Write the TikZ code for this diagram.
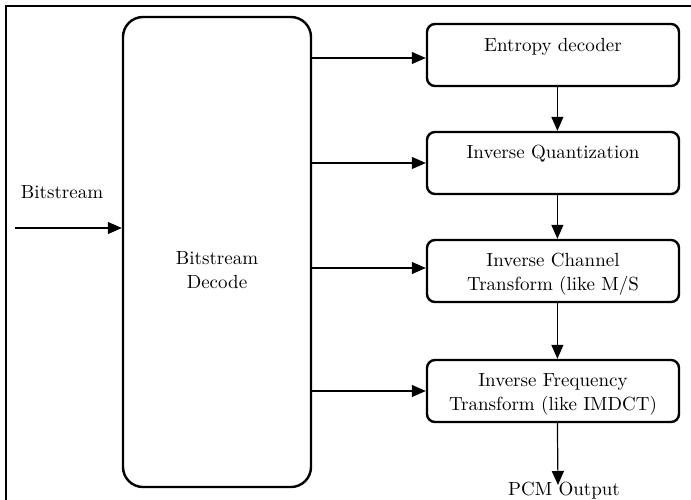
\documentclass[tikz,border=0pt]{standalone}
\usetikzlibrary{arrows.meta}
\tikzset{
  block/.style={draw=black,line width=1.2pt,rounded corners=4pt,minimum width=126pt,minimum height=31pt,inner sep=0pt},
  flow/.style={draw=black,line width=0.6pt,-{Triangle[length=7pt,width=6pt]}},
  txt/.style={align=center,inner sep=0pt,font=\fontsize{9.5}{12}\selectfont}
}
\begin{document}
\begin{tikzpicture}[x=0.5pt,y=-0.5pt]
            \useasboundingbox (0,0) rectangle (691,499);
            \draw[black,line width=0.6pt] (6,6) rectangle (720,530);
            % decoder on the left
            \node[block,rounded corners=10pt,minimum width=94pt,minimum height=235pt,
                  label={[txt,yshift=-9pt]center:Bitstream\\Decode}] (dec) at (217,252) {};
            \node[txt] (bs) at (62,192) {Bitstream};
            \coordinate (in) at (15,228);
            % chain on the right
            \node[block,label={[txt,yshift=4pt]center:Entropy decoder}] (ent) at (553,55) {};
            \node[block,label={[txt,yshift=4.5pt]center:Inverse Quantization}] (iq) at (553,163) {};
            \node[block,label={[txt,yshift=-1.5pt]center:Inverse Channel\\Transform (like M/S}] (ict) at (553,271) {};
            \node[block,label={[txt,yshift=-1.5pt]center:Inverse Frequency\\Transform (like IMDCT)}] (ift) at (553,391) {};
            \node[txt] (pcm) at (564,491) {PCM Output};
            \coordinate (out) at (558,485);
            \draw[flow] (in) -- (dec.west |- in);
            \draw[flow] ([yshift=-1.5pt]ent.west -| dec.east) -- ([yshift=-1.5pt]ent.west);
            \draw[flow] (iq.west -| dec.east) -- (iq.west);
            \draw[flow] ([yshift=1.5pt]ict.west -| dec.east) -- ([yshift=1.5pt]ict.west);
            \draw[flow] (ift.west -| dec.east) -- (ift.west);
            \draw[flow] ([xshift=2.2pt]ent.south) -- ([xshift=2.2pt]iq.north);
            \draw[flow] ([xshift=2.2pt]iq.south) -- ([xshift=2.2pt]ict.north);
            \draw[flow] ([xshift=2.2pt]ict.south) -- ([xshift=2.2pt]ift.north);
            \draw[flow] ([xshift=2.2pt]ift.south) -- (out);
        \end{tikzpicture}
\end{document}
